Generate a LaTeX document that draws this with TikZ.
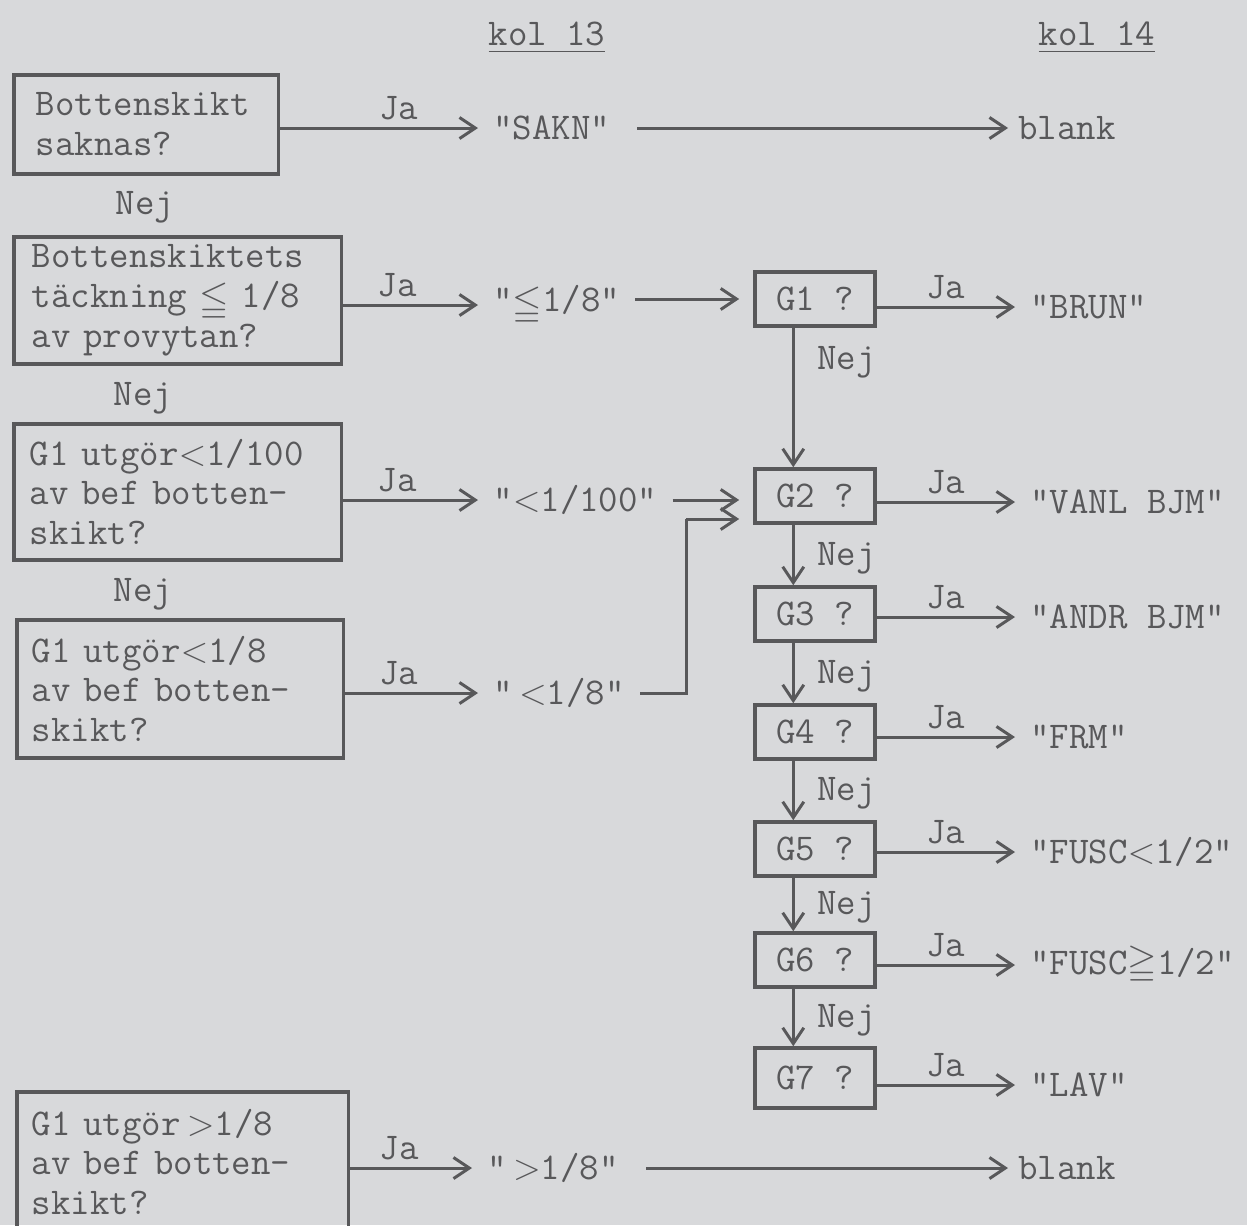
\documentclass[tikz,border=0pt]{standalone}
\usepackage{fontspec}
\usepackage{amssymb}
\usetikzlibrary{arrows.meta,calc}
\definecolor{bg}{RGB}{216,217,219}
\definecolor{ink}{RGB}{88,88,90}
\newcommand{\lowleq}{\raisebox{-2.5pt}{$\leqq$}}
\begin{document}
\begin{tikzpicture}[x=0.02cm,y=-0.02cm,
  every node/.style={text=ink, font=\ttfamily\fontsize{21.5}{22.5}\selectfont},
  qbox/.style={draw=ink, line width=2pt, anchor=north west, align=left, inner ysep=0pt},
  gbox/.style={draw=ink, line width=2pt, minimum width=2.4cm, minimum height=1.08cm, inner sep=0pt},
  mid/.style={anchor=west, inner xsep=0.3cm, inner ysep=0pt},
  res/.style={anchor=west, inner xsep=0.3cm, inner ysep=0pt},
  arr/.style={draw=ink, line width=1.7pt, -{Straight Barb[length=9pt,width=12pt,line width=1.7pt]}},
  ln/.style={draw=ink, line width=1.7pt},
  ja/.style={above, inner sep=4pt},
  nej/.style={anchor=west, inner sep=0pt, xshift=0.45cm}
]
\fill[bg] (0,0) rectangle (1247,1225);
\useasboundingbox (0,0) rectangle (1247,1225);
\clip (0,0) rectangle (1247,1225);

% headers
\node (k13) at (547,38) {\underline{kol 13}};
\node (k14) at (1097,38) {\underline{kol 14}};

% question boxes (left column)
\node[qbox, minimum width=5.30cm, minimum height=1.98cm, inner xsep=0.44cm, text width=4.42cm] (b1) at (12,73) {Bottenskikt\\saknas?};
\node (nej1) at (145,207) {Nej};
\node[qbox, minimum width=6.56cm, minimum height=2.54cm, inner xsep=0.36cm, text width=5.84cm] (b2) at (12,235) {Bottenskiktets\\täckning \lowleq{} 1/8\\av provytan?};
\node (nej2) at (143,398) {Nej};
\node[qbox, minimum width=6.56cm, minimum height=2.72cm, inner xsep=0.32cm, text width=5.92cm] (b3) at (12,422) {G1 utgör$<$1/100\\av bef botten-\\skikt?};
\node (nej3) at (143,594) {Nej};
\node[qbox, minimum width=6.54cm, minimum height=2.76cm, inner xsep=0.30cm, text width=5.94cm] (b4) at (15,618) {G1 utgör$<$1/8\\av bef botten-\\skikt?};
\node[qbox, minimum width=6.64cm, minimum height=2.80cm, inner xsep=0.30cm, text width=6.04cm] (b5) at (15,1090) {G1 utgör\,$>$1/8\\av bef botten-\\skikt?};

% kol 13 values
\node[mid] (sakn) at (478,128) {"SAKN"};
\node[mid] (le8) at (478,305) {"\lowleq1/8"};
\node[mid] (lt100) at (478,500) {"$<$1/100"};
\node[mid] (lt8) at (478,693) {"\,$<$1/8"};
\node[mid] (gt8) at (472,1168) {"\,$>$1/8"};

% G chain
\node[gbox] (g1) at (815,299) {G1 ?};
\node[gbox] (g2) at (815,496) {G2 ?};
\node[gbox] (g3) at (815,614) {G3 ?};
\node[gbox] (g4) at (815,732) {G4 ?};
\node[gbox] (g5) at (815,849) {G5 ?};
\node[gbox] (g6) at (815,960) {G6 ?};
\node[gbox, minimum height=1.2cm] (g7) at (815,1078) {G7 ?};

% kol 14 values
\node[res, inner xsep=0.2cm] (blank1) at (1008,128) {blank};
\node[res] (brun) at (1015,307) {"BRUN"};
\node[res] (vanl) at (1015,502) {"VANL BJM"};
\node[res] (andr) at (1015,617) {"ANDR BJM"};
\node[res] (frm) at (1015,737) {"FRM"};
\node[res] (fusc1) at (1015,852) {"FUSC$<$1/2"};
\node[res] (fusc2) at (1015,965) {"FUSC$\geqq$1/2"};
\node[res] (lav) at (1015,1085) {"LAV"};
\node[res, inner xsep=0.2cm] (blank2) at (1008,1168) {blank};

% Ja arrows from question boxes
\draw[arr] (b1.east |- sakn.west) -- node[ja, pos=0.6] {Ja} (sakn.west);
\draw[arr] (b2.east |- le8.west) -- node[ja, pos=0.4] {Ja} (le8.west);
\draw[arr] (b3.east |- lt100.west) -- node[ja, pos=0.4] {Ja} (lt100.west);
\draw[arr] (b4.east |- lt8.west) -- node[ja, pos=0.4] {Ja} (lt8.west);
\draw[arr] (b5.east |- gt8.west) -- node[ja, pos=0.4] {Ja} (gt8.west);

% from kol 13 values onward
\draw[arr] ($(sakn.east)+(12,0)$) -- (blank1.west);
\draw[arr, shorten >=8pt] (le8.east |- g1.west) -- (g1.west);
\draw[arr, shorten >=8pt] (lt100.east) -- (lt100.east -| g2.west);
\coordinate (jn) at (686,519);
\draw[ln] (lt8.east) -| (jn);
\draw[arr, shorten >=8pt] (jn) -- (jn -| g2.west);
\draw[arr] ($(gt8.east)+(12,0)$) -- (blank2.west);

% Nej chain
\draw[arr] ($(g1.south west)+(40,0)$) -- node[nej, pos=0.25] {Nej} ($(g2.north west)+(40,0)$);
\draw[arr] ($(g2.south west)+(40,0)$) -- node[nej, pos=0.55] {Nej} ($(g3.north west)+(40,0)$);
\draw[arr] ($(g3.south west)+(40,0)$) -- node[nej, pos=0.55] {Nej} ($(g4.north west)+(40,0)$);
\draw[arr] ($(g4.south west)+(40,0)$) -- node[nej, pos=0.55] {Nej} ($(g5.north west)+(40,0)$);
\draw[arr] ($(g5.south west)+(40,0)$) -- node[nej, pos=0.55] {Nej} ($(g6.north west)+(40,0)$);
\draw[arr] ($(g6.south west)+(40,0)$) -- node[nej, pos=0.55] {Nej} ($(g7.north west)+(40,0)$);

% Ja arrows from G boxes
\draw[arr] (g1.east |- brun.west) -- node[ja] {Ja} (brun.west);
\draw[arr] (g2.east |- vanl.west) -- node[ja] {Ja} (vanl.west);
\draw[arr] (g3.east |- andr.west) -- node[ja] {Ja} (andr.west);
\draw[arr] (g4.east |- frm.west) -- node[ja] {Ja} (frm.west);
\draw[arr] (g5.east |- fusc1.west) -- node[ja] {Ja} (fusc1.west);
\draw[arr] (g6.east |- fusc2.west) -- node[ja] {Ja} (fusc2.west);
\draw[arr] (g7.east |- lav.west) -- node[ja] {Ja} (lav.west);
\end{tikzpicture}
\end{document}
